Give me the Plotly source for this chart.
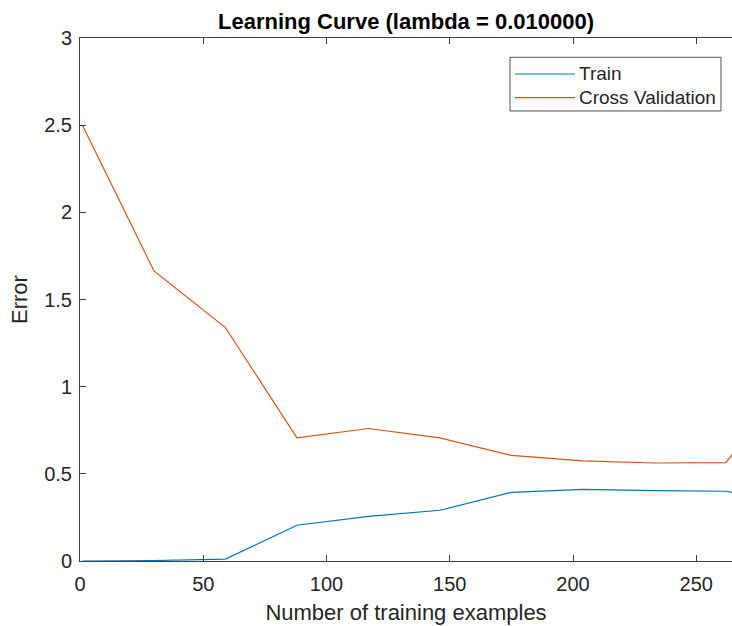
import plotly.graph_objects as go

# Learning-curve data: training-set sizes and the resulting errors
num_examples = [1, 30, 59, 88, 117, 146, 175, 204, 233, 262, 291]
train_error = [0.0, 0.003, 0.011, 0.205, 0.256, 0.291, 0.394, 0.411, 0.404, 0.400, 0.33]
cv_error = [2.50, 1.664, 1.339, 0.706, 0.760, 0.706, 0.606, 0.574, 0.562, 0.564, 1.07]
series_names = ["Train", "Cross Validation"]

x_ticks = [0, 50, 100, 150, 200, 250]
y_ticks = [0, 0.5, 1, 1.5, 2, 2.5, 3]
y_tick_text = ["0", "0.5", "1", "1.5", "2", "2.5", "3"]

BLUE = "#0072BD"
ORANGE = "#D95319"
AXIS = "#404040"
TEXT = "#262626"
FONT = "Liberation Sans, Arial, sans-serif"

fig = go.Figure()
fig.add_trace(go.Scatter(x=num_examples, y=train_error, mode="lines", name=series_names[0],
                         line=dict(color=BLUE, width=1.2), showlegend=False))
fig.add_trace(go.Scatter(x=num_examples, y=cv_error, mode="lines", name=series_names[1],
                         line=dict(color=ORANGE, width=1.2), showlegend=False))

# Boxed legend in the upper-right corner, with long line samples
box = dict(x0=0.6595, x1=0.9831, y0=0.8604, y1=0.9631)
rows = [(0.9312, BLUE, series_names[0]), (0.8859, ORANGE, series_names[1])]
fig.add_shape(type="rect", xref="paper", yref="paper", **box,
              line=dict(color="#555555", width=1), fillcolor="white", layer="above")
for y, color, label in rows:
    fig.add_shape(type="line", xref="paper", yref="paper", x0=0.6672, x1=0.7592, y0=y, y1=y,
                  line=dict(color=color, width=1.2), layer="above")
    fig.add_annotation(text=label, xref="paper", yref="paper", x=0.7623, y=y,
                       xanchor="left", yanchor="middle", showarrow=False,
                       font=dict(size=19, color=TEXT, family=FONT))

fig.update_layout(
    width=732, height=626,
    margin=dict(l=80, r=0, t=38, b=65),
    paper_bgcolor="white", plot_bgcolor="white",
    font=dict(family=FONT, color=TEXT),
    title=dict(text="<b>Learning Curve (lambda = 0.010000)</b>",
               x=0.5, xref="paper", xanchor="center",
               y=1 - 28.5 / 626, yref="container", yanchor="bottom",
               font=dict(size=22, color="#000000", family=FONT)),
    showlegend=False,
)

fig.update_xaxes(
    range=[0, 264.5], tickvals=x_ticks, ticks="inside", ticklen=6, tickcolor=AXIS,
    showline=True, linecolor=AXIS, linewidth=1, mirror="ticks",
    showgrid=False, zeroline=False, ticklabelstandoff=5,
    tickfont=dict(size=20, color=TEXT),
    title=dict(text="Number of training examples", font=dict(size=22, color=TEXT), standoff=10),
)
fig.update_yaxes(
    range=[0, 3], tickvals=y_ticks, ticktext=y_tick_text, ticks="inside", ticklen=6, tickcolor=AXIS,
    showline=True, linecolor=AXIS, linewidth=1, mirror=False,
    showgrid=False, zeroline=False, ticklabelstandoff=3,
    tickfont=dict(size=20, color=TEXT),
    title=dict(text="Error", font=dict(size=22, color=TEXT), standoff=10),
)

fig.write_html("out.html", config={"displayModeBar": False})
